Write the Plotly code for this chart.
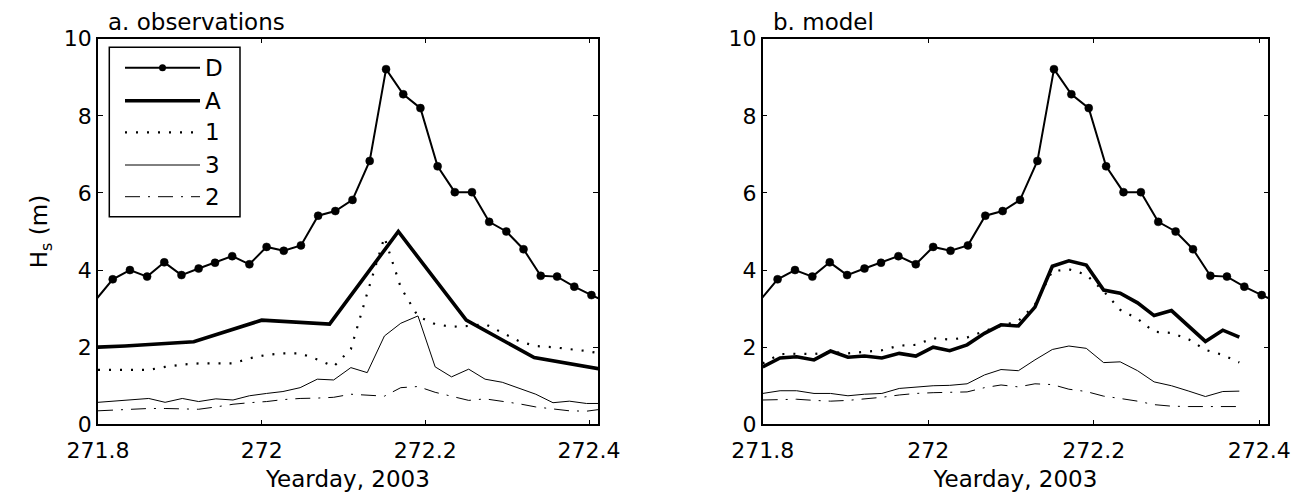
import plotly.graph_objects as go

W, H = 1304, 495
FONT = "DejaVu Sans"

# ---------------- data ----------------
# D: observed deep-water Hs (same in both panels); first/last points lie just outside the axis range
x_D = [271.797, 271.818, 271.839, 271.860, 271.881, 271.902, 271.923, 271.943, 271.964,
       271.985, 272.006, 272.027, 272.048, 272.069, 272.090, 272.111, 272.132, 272.152,
       272.173, 272.194, 272.215, 272.236, 272.257, 272.278, 272.299, 272.320, 272.341,
       272.361, 272.382, 272.403, 272.424]
D = [3.22, 3.76, 4.00, 3.83, 4.20, 3.87, 4.04, 4.19, 4.36, 4.15, 4.60, 4.50, 4.64, 5.41,
     5.53, 5.82, 6.83, 9.21, 8.56, 8.20, 6.69, 6.02, 6.02, 5.25, 5.00, 4.54, 3.85, 3.83,
     3.57, 3.35, 3.15]

# A (observations): 2-hourly values
x_A_obs = [271.750, 271.833, 271.917, 272.000, 272.083, 272.167, 272.250, 272.333, 272.417]
A_obs = [1.96, 2.03, 2.14, 2.70, 2.60, 5.00, 2.70, 1.73, 1.42]

# half-hourly grid for sites 1, 3, 2
x_G = [271.800, 271.821, 271.841, 271.862, 271.882, 271.903, 271.923, 271.944, 271.965,
       271.985, 272.006, 272.026, 272.047, 272.068, 272.088, 272.109, 272.129, 272.150,
       272.170, 272.191, 272.212, 272.232, 272.253, 272.273, 272.294, 272.315, 272.335,
       272.356, 272.376, 272.397, 272.418]

s1_obs = [1.41, 1.41, 1.41, 1.41, 1.49, 1.55, 1.58, 1.58, 1.58, 1.71, 1.80, 1.84, 1.84,
          1.68, 1.50, 1.95, 3.40, 4.85, 3.55, 2.80, 2.60, 2.53, 2.55, 2.60, 2.38, 2.15,
          2.03, 2.00, 1.95, 1.90, 1.82]
s3_obs = [0.57, 0.61, 0.63, 0.67, 0.57, 0.67, 0.59, 0.66, 0.63, 0.74, 0.80, 0.85, 0.95,
          1.17, 1.15, 1.47, 1.34, 2.29, 2.62, 2.81, 1.49, 1.23, 1.43, 1.17, 1.09, 0.93,
          0.78, 0.56, 0.60, 0.54, 0.54]
s2_obs = [0.35, 0.37, 0.40, 0.41, 0.41, 0.40, 0.39, 0.45, 0.52, 0.56, 0.59, 0.64, 0.67,
          0.68, 0.70, 0.78, 0.76, 0.73, 0.95, 0.98, 0.83, 0.73, 0.62, 0.66, 0.60, 0.53,
          0.45, 0.39, 0.35, 0.34, 0.40]

# model (first 29 grid times)
A_mod = [1.49, 1.72, 1.75, 1.67, 1.90, 1.74, 1.77, 1.72, 1.84, 1.77, 2.00, 1.91, 2.06,
         2.36, 2.58, 2.55, 3.04, 4.10, 4.24, 4.13, 3.48, 3.40, 3.15, 2.82, 2.95, 2.55,
         2.15, 2.44, 2.26]
s1_mod = [1.58, 1.82, 1.83, 1.82, 1.88, 1.84, 1.88, 1.92, 2.04, 2.06, 2.23, 2.20, 2.25,
          2.42, 2.55, 2.68, 3.10, 3.97, 4.02, 3.88, 3.45, 2.97, 2.74, 2.40, 2.37, 2.20,
          1.93, 1.80, 1.60]
s3_mod = [0.80, 0.87, 0.87, 0.80, 0.80, 0.74, 0.78, 0.80, 0.93, 0.96, 1.00, 1.01, 1.05,
          1.28, 1.42, 1.39, 1.67, 1.94, 2.03, 1.97, 1.60, 1.62, 1.39, 1.10, 1.00, 0.86,
          0.72, 0.85, 0.86]
s2_mod = [0.63, 0.64, 0.65, 0.62, 0.60, 0.62, 0.65, 0.70, 0.76, 0.80, 0.82, 0.83, 0.84,
          0.95, 1.02, 0.97, 1.05, 1.03, 0.91, 0.85, 0.73, 0.67, 0.60, 0.51, 0.47, 0.46,
          0.46, 0.46, 0.46]

legend_names = ["D", "A", "1", "3", "2"]
x_ticks = [271.8, 272.0, 272.2, 272.4]
x_ticktext = ["271.8", "272", "272.2", "272.4"]
y_ticks = [0, 2, 4, 6, 8, 10]
panel_titles = ["a. observations", "b. model"]

# ---------------- styles ----------------
DOT = "2px,9px"
DASHDOT = "15px,8px,2px,8px"
styles = {
    "D": dict(color="black", width=2),
    "A": dict(color="black", width=3.6),
    "1": dict(color="black", width=2.2, dash=DOT),
    "3": dict(color="black", width=1),
    "2": dict(color="black", width=1, dash=DASHDOT),
}

fig = go.Figure()
D_sizes = [0] + [8] * (len(D) - 2) + [0]

panels = [
    ("x", "y", x_A_obs, A_obs, x_G, s1_obs, s3_obs, s2_obs),
    ("x2", "y2", x_G[:len(A_mod)], A_mod, x_G[:len(s1_mod)], s1_mod, s3_mod, s2_mod),
]
for xa, ya, xa_A, yA, xg, y1, y3, y2 in panels:
    n = len(y1)
    fig.add_trace(go.Scatter(x=xg[:len(y2)], y=y2, mode="lines", line=styles["2"],
                             xaxis=xa, yaxis=ya, showlegend=False, name="2"))
    fig.add_trace(go.Scatter(x=xg[:len(y3)], y=y3, mode="lines", line=styles["3"],
                             xaxis=xa, yaxis=ya, showlegend=False, name="3"))
    fig.add_trace(go.Scatter(x=xg[:n], y=y1, mode="lines", line=styles["1"],
                             xaxis=xa, yaxis=ya, showlegend=False, name="1"))
    fig.add_trace(go.Scatter(x=xa_A, y=yA, mode="lines", line=styles["A"],
                             xaxis=xa, yaxis=ya, showlegend=False, name="A"))
    fig.add_trace(go.Scatter(x=x_D, y=D, mode="lines+markers", line=styles["D"],
                             marker=dict(size=D_sizes, color="black", opacity=1,
                                         line=dict(width=0.5, color="black")),
                             xaxis=xa, yaxis=ya, showlegend=False, name="D"))

def px(x):
    return x / W

def py(y):
    return 1 - y / H

axis_common = dict(
    showline=True, linecolor="black", linewidth=1.5, mirror="ticks",
    ticks="inside", ticklen=5, tickwidth=1, tickcolor="black",
    showgrid=False, zeroline=False, automargin=False,
    tickfont=dict(family=FONT, size=22, color="black"),
)
xdom = [(98, 598), (762.7, 1268.3)]
ydom = [py(424.3), py(38.7)]

layout = dict(
    width=W, height=H, margin=dict(l=0, r=0, t=0, b=0),
    paper_bgcolor="white", plot_bgcolor="white", showlegend=False,
)
for i, (xn, yn) in enumerate([("xaxis", "yaxis"), ("xaxis2", "yaxis2")]):
    ya_name = "y" if i == 0 else "y2"
    xa_name = "x" if i == 0 else "x2"
    layout[xn] = dict(axis_common, domain=[px(xdom[i][0]), px(xdom[i][1])], anchor=ya_name,
                      range=[271.8, 272.411], tickvals=x_ticks, ticktext=x_ticktext,
                      ticklabelstandoff=6,
                      title=dict(text="Yearday, 2003", font=dict(family=FONT, size=23, color="black"),
                                 standoff=8))
    ydict = dict(axis_common, domain=ydom, anchor=xa_name, range=[0, 10], tickvals=y_ticks)
    if i == 0:
        ydict["title"] = dict(text="H<sub>s</sub> (m)", font=dict(family=FONT, size=23, color="black"),
                              standoff=10)
    layout[yn] = ydict
fig.update_layout(**layout)

# panel titles
for i, t in enumerate(panel_titles):
    fig.add_annotation(text=t, xref="paper", yref="paper", x=px(xdom[i][0] + 8), y=py(22),
                       xanchor="left", yanchor="middle", showarrow=False,
                       font=dict(family=FONT, size=23, color="black"))

# legend box (left panel)
bx0, bx1, by0, by1 = 109.3, 240, 47.3, 216.7
fig.add_shape(type="rect", xref="paper", yref="paper", x0=px(bx0), x1=px(bx1),
              y0=py(by1), y1=py(by0), line=dict(color="black", width=1.5), fillcolor="white",
              layer="above")
rows = [67.7, 100.7, 132.3, 165, 196.7]
for name, yy in zip(legend_names, rows):
    st = styles[name]
    fig.add_shape(type="line", xref="paper", yref="paper", x0=px(125), x1=px(200),
                  y0=py(yy), y1=py(yy), line=st, layer="above")
    if name == "D":
        r = 3.5
        fig.add_shape(type="circle", xref="paper", yref="paper", x0=px(162.5 - r), x1=px(162.5 + r),
                      y0=py(yy + r), y1=py(yy - r), fillcolor="black", line=dict(color="black", width=0),
                      layer="above")
    fig.add_annotation(text=name, xref="paper", yref="paper", x=px(203), y=py(yy),
                       xanchor="left", yanchor="middle", showarrow=False,
                       font=dict(family=FONT, size=23, color="black"))

fig.write_html("out.html")
